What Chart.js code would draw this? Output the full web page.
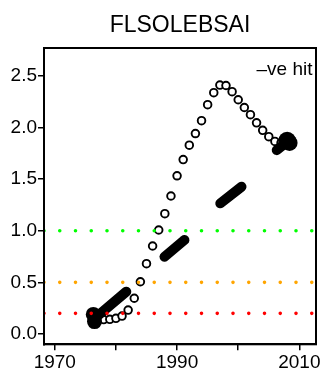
<!DOCTYPE html>
<html><head><meta charset="utf-8">
<script src="https://cdn.jsdelivr.net/npm/chart.js@4/dist/chart.umd.min.js"></script>
<style>html,body{margin:0;padding:0;background:#fff;}#wrap{width:325px;height:375px;position:relative;}</style>
</head><body><div id="wrap"><canvas id="c"></canvas></div>
<script>
const chartTitle = 'FLSOLEBSAI';
const cornerLabel = '\u2013ve hit';
const years = [1977,1978,1979,1980,1981,1982,1983,1984,1985,1986,1987,1988,1989,1990,1991,1992,1993,1994,1995,1996,1997,1998,1999,2000,2001,2002,2003,2004,2005,2006,2007,2008];
const hitValues = [0.14,0.14,0.142,0.152,0.174,0.232,0.346,0.506,0.681,0.852,1.007,1.165,1.336,1.532,1.689,1.828,1.941,2.065,2.22,2.336,2.41,2.406,2.346,2.268,2.193,2.123,2.045,1.972,1.91,1.864,1.85,1.85];
const trendStartYears = [1976.7,1987.95,1997.07,2006.3];
const trendStartValues = [0.16,0.748,1.265,1.78];
const trendEndYears = [1981.7,1991.2,2000.54,2008.0];
const trendEndValues = [0.41,0.91,1.426,1.86];
const blobYears = [1976.3,1976.5,2008.0,2008.4];
const blobValues = [0.19,0.12,1.87,1.85];
const thresholdValues = [1.0,0.5,0.2];
const thresholdColors = ['#00ff00','#ffa500','#ff0000'];
const xTicks = [1970,1980,1990,2000,2010];
const xTickLabels = ['1970','','1990','','2010'];
const yTicks = [0,0.5,1,1.5,2,2.5];
const yTickLabels = ['0.0','0.5','1.0','1.5','2.0','2.5'];
const X_MIN = 1968.24, X_MAX = 2012.72, Y_MIN = -0.0997, Y_MAX = 2.769;

const FONT = 'Liberation Sans, Arial, Helvetica, sans-serif';
const datasets = [];
thresholdValues.forEach((v,i)=>{
  datasets.push({type:'line',data:[{x:X_MIN,y:v},{x:X_MAX,y:v}],borderColor:thresholdColors[i],borderWidth:3.6,borderDash:[0,15.75],borderCapStyle:'round',pointRadius:0,order:0});
});
trendStartYears.forEach((s,i)=>{
  datasets.push({type:'line',data:[{x:s,y:trendStartValues[i]},{x:trendEndYears[i],y:trendEndValues[i]}],borderColor:'#000',borderWidth:10,borderCapStyle:'round',pointRadius:0,order:1});
});
datasets.push({type:'scatter',data:blobYears.map((y,i)=>({x:y,y:blobValues[i]})),backgroundColor:'#000',borderColor:'#000',pointRadius:[7.5,7.5,9,8],borderWidth:0,order:1});
datasets.push({type:'scatter',data:years.map((y,i)=>({x:y,y:hitValues[i]})),backgroundColor:'#fff',borderColor:'#000',pointRadius:3.8,borderWidth:1.9,order:2});

const framePlugin = {
  id:'frame',
  afterDraw(chart){
    const a = chart.chartArea, ctx = chart.ctx;
    ctx.save();
    ctx.strokeStyle='#000'; ctx.lineWidth=2;
    ctx.strokeRect(a.left,a.top,a.right-a.left,a.bottom-a.top);
    ctx.fillStyle='#000'; ctx.font='19px '+FONT; ctx.textAlign='right'; ctx.textBaseline='alphabetic';
    ctx.fillText(cornerLabel,a.right-3.5,a.top+27);
    ctx.restore();
  }
};

new Chart(document.getElementById('c'),{
  data:{datasets},
  plugins:[framePlugin],
  options:{
    responsive:true,maintainAspectRatio:false,animation:false,
    layout:{padding:{left:0,right:8.3,top:0,bottom:0}},
    plugins:{legend:{display:false},tooltip:{enabled:false},
      title:{display:true,fullSize:false,text:chartTitle,color:'#000',font:{family:FONT,size:23,weight:'normal',lineHeight:1.2},padding:{top:12,bottom:8.4}}},
    scales:{
      x:{type:'linear',min:X_MIN,max:X_MAX,
        afterBuildTicks:s=>{s.ticks=xTicks.map(v=>({value:v}));},
        afterFit:s=>{s.height=30.7;},
        ticks:{callback:v=>xTickLabels[xTicks.indexOf(v)],color:'#000',font:{family:FONT,size:19},maxRotation:0,autoSkip:false,padding:1},
        grid:{drawOnChartArea:false,drawTicks:true,tickLength:6,color:'#000',lineWidth:1.5},
        border:{display:true,color:'#000',width:2}},
      y:{type:'linear',min:Y_MIN,max:Y_MAX,
        afterBuildTicks:s=>{s.ticks=yTicks.map(v=>({value:v}));},
        afterFit:s=>{s.width=44;},
        ticks:{callback:v=>yTickLabels[yTicks.indexOf(v)],color:'#000',font:{family:FONT,size:19},padding:1},
        grid:{drawOnChartArea:false,drawTicks:true,tickLength:6,color:'#000',lineWidth:1.5},
        border:{display:true,color:'#000',width:2}}
    }
  }
});
</script></body></html>
